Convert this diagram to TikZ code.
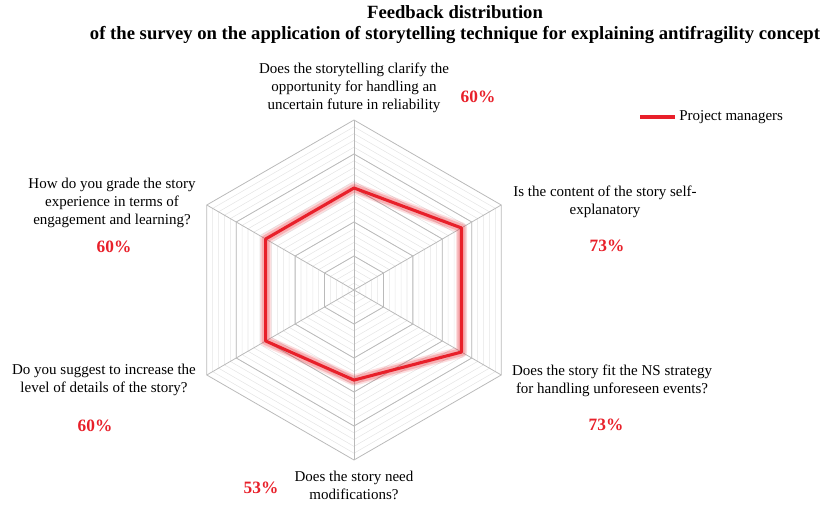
\documentclass[tikz,border=0pt]{standalone}
\usepackage{fontspec}
\setmainfont{Liberation Serif}
\usepackage{tikz}
\usetikzlibrary{calc}
\definecolor{seriesred}{HTML}{E8202A}
\def\hexring[#1](#2){\draw[#1] (90:#2) -- (30:#2) -- (-30:#2) -- (-90:#2) -- (-150:#2) -- (150:#2) -- cycle;}
\def\qfont{\fontsize{11.25}{13.5}\selectfont}
\def\pfont{\fontsize{13}{15}\selectfont\bfseries\color{seriesred}}

\begin{document}
\begin{tikzpicture}[x=0.75pt, y=0.75pt,
		question/.style={align=center, inner sep=0pt, font=\qfont},
		share/.style={inner sep=0pt, font=\pfont}]
			%%%%% START %%%%%
			
			\useasboundingbox (0, 0) rectangle (828, -505);
			
			\node[align=center, inner sep=0pt, font=\fontsize{14}{15.75}\selectfont\bfseries] (title) at (455, -25) {Feedback distribution\\of the survey on the application of storytelling technique for explaining antifragility concept};
			
			\begin{scope}[shift={(354, -290)}]
				\foreach \r in {6.8, 13.6, ..., 170} {\hexring[line width=0.4pt, color=black!10](\r)}
				\foreach \r in {34, 68, 102, 136, 170} {\hexring[line width=0.6pt, color=black!27](\r)}
				\foreach \a in {90, 30, -30, -90, -150, 150} {\draw[line width=0.6pt, color=black!27] (0, 0) -- (\a:170);}
				
				\coordinate (p1) at (90:102);
				\coordinate (p2) at (30:124.1);
				\coordinate (p3) at (-30:124.1);
				\coordinate (p4) at (-90:90.1);
				\coordinate (p5) at (-150:102);
				\coordinate (p6) at (150:102);
				
				\draw[line width=8.5pt, color=seriesred, opacity=0.15, line join=round] (p1) -- (p2) -- (p3) -- (p4) -- (p5) -- (p6) -- cycle;
				\draw[line width=6pt, color=seriesred, opacity=0.25, line join=round] (p1) -- (p2) -- (p3) -- (p4) -- (p5) -- (p6) -- cycle;
				\draw[line width=2.3pt, color=seriesred, line join=round] (p1) -- (p2) -- (p3) -- (p4) -- (p5) -- (p6) -- cycle;
			\end{scope}
			
			\node[question] (qtop) at (354, -88) {Does the storytelling clarify the\\opportunity for handling an\\uncertain future in reliability};
			\node[share] (stop) at (478, -97) {60\%};
			
			\node[question] (qur) at (605, -202) {Is the content of the story self-\\explanatory};
			\node[share] (sur) at (607, -246) {73\%};
			
			\node[question] (qlr) at (612, -381) {Does the story fit the NS strategy\\for handling unforeseen events?};
			\node[share] (slr) at (606, -425) {73\%};
			
			\node[question] (qbot) at (354, -485) {Does the story need\\modifications?};
			\node[share] (sbot) at (261, -488) {53\%};
			
			\node[question] (qll) at (104, -380) {Do you suggest to increase the\\level of details of the story?};
			\node[share] (sll) at (95, -426) {60\%};
			
			\node[question] (qul) at (112, -203) {How do you grade the story\\experience in terms of\\engagement and learning?};
			\node[share] (sul) at (114, -247) {60\%};
			
			\coordinate (legA) at (640, -117);
			\coordinate (legB) at (675, -117);
			\draw[line width=2.3pt, color=seriesred] (legA) -- (legB);
			\node[question, anchor=west] (leg) at (679, -117) {Project managers};
			
			%%%%% END %%%%%
\end{tikzpicture}
\end{document}
